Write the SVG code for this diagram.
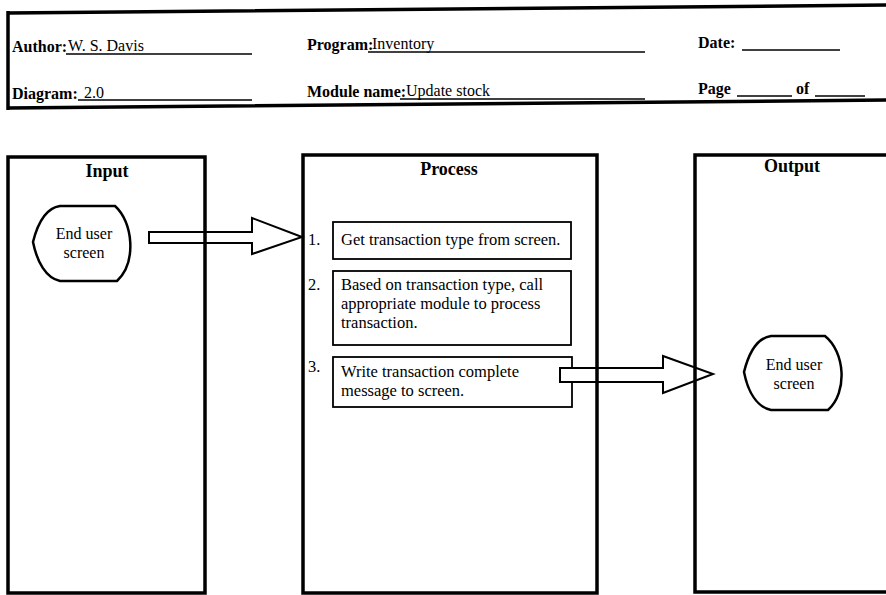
<svg xmlns="http://www.w3.org/2000/svg" width="886" height="595" viewBox="0 0 886 595">
<style>
.hb{font-family:'Liberation Serif','DejaVu Serif',serif;font-weight:bold;font-size:16px;fill:#000}
.hr{font-family:'Liberation Serif','DejaVu Serif',serif;font-size:16px;fill:#000}
.ph{font-family:'Liberation Serif','DejaVu Serif',serif;font-weight:bold;font-size:18px;fill:#000}
.t{font-family:'Liberation Serif','DejaVu Serif',serif;font-size:16.5px;fill:#000}
.b{font-family:'Liberation Serif','DejaVu Serif',serif;font-size:16px;fill:#000}
.ul{stroke:#000;stroke-width:1.5;fill:none}
.panel{fill:none;stroke:#000;stroke-width:3.5}
.step{fill:#fff;stroke:#000;stroke-width:1.8}
.blob{fill:#fff;stroke:#000;stroke-width:2.5}
.arrow{fill:#fff;stroke:#000;stroke-width:2}
</style>
<rect width="886" height="595" fill="#fff"/>
<g id="header">
<path d="M8,13 L890,5 M890,100 L8,108 M8,11 L8,110" fill="none" stroke="#000" stroke-width="3.5"/>
<text class="hb" x="12" y="52">Author:</text>
<text class="hr" x="68" y="51">W. S. Davis</text>
<line class="ul" x1="66" y1="54" x2="252" y2="54"/>
<text class="hb" x="12" y="99">Diagram:</text>
<text class="hr" x="84" y="98">2.0</text>
<line class="ul" x1="78" y1="100" x2="252" y2="100"/>
<text class="hb" x="307" y="50">Program:</text>
<text class="hr" x="372" y="49" font-size="17">Inventory</text>
<line class="ul" x1="368" y1="52" x2="645" y2="52"/>
<text class="hb" x="307" y="97">Module name:</text>
<text class="hr" x="406" y="96" font-size="17">Update stock</text>
<line class="ul" x1="400" y1="99" x2="645" y2="99"/>
<text class="hb" x="698" y="48">Date:</text>
<line class="ul" x1="742" y1="50" x2="840" y2="50"/>
<text class="hb" x="698" y="94">Page</text>
<line class="ul" x1="737" y1="96" x2="792" y2="96"/>
<text class="hb" x="796" y="94">of</text>
<line class="ul" x1="815" y1="96" x2="865" y2="96"/>
</g>
<g id="step1">
<text class="t" x="308" y="245">1.</text>
<rect class="step" x="333" y="222" width="238" height="37"/>
<text class="t" x="341" y="245">Get transaction type from screen.</text>
</g>
<g id="step2">
<text class="t" x="308" y="290">2.</text>
<rect class="step" x="333" y="271" width="238" height="74"/>
<text class="t" x="341" y="290">Based on transaction type, call</text>
<text class="t" x="341" y="309">appropriate module to process</text>
<text class="t" x="341" y="328">transaction.</text>
</g>
<g id="step3">
<text class="t" x="308" y="372">3.</text>
<rect class="step" x="333" y="357" width="239" height="50"/>
<text class="t" x="341" y="377">Write transaction complete</text>
<text class="t" x="341" y="396">message to screen.</text>
</g>
<g id="input-screen">
<path class="blob" d="M33,242 C38,222 46,208 60,206 L115,206 C133,222 137,262 117,281 L60,281 C46,278 37,262 33,242 Z"/>
<text class="b" x="84" y="239" text-anchor="middle">End user</text>
<text class="b" x="84" y="258" text-anchor="middle">screen</text>
</g>
<g id="output-screen">
<path class="blob" d="M744,372 C749,352 757,338 771,336 L825,336 C845,352 848,392 828,410 L771,410 C757,407 748,392 744,372 Z"/>
<text class="b" x="794" y="370" text-anchor="middle">End user</text>
<text class="b" x="794" y="389" text-anchor="middle">screen</text>
</g>
<g id="connectors">
<path class="arrow" d="M149,232 L252,232 L252,218 L302,237 L252,254 L252,243 L149,243 Z"/>
<path class="arrow" d="M560,368 L663,368 L663,356 L713,374 L663,393 L663,382 L560,382 Z"/>
</g>
<g id="panels">
<g id="input-panel">
<rect class="panel" x="8" y="157" width="197" height="436"/>
<text class="ph" x="107" y="177" text-anchor="middle">Input</text>
</g>
<g id="process-panel">
<rect class="panel" x="303" y="155" width="294" height="438"/>
<text class="ph" x="449" y="175" text-anchor="middle">Process</text>
</g>
<g id="output-panel">
<path class="panel" d="M890,155 L695,155 L695,592 L890,592"/>
<text class="ph" x="792" y="172" text-anchor="middle">Output</text>
</g>
</g>
</svg>
